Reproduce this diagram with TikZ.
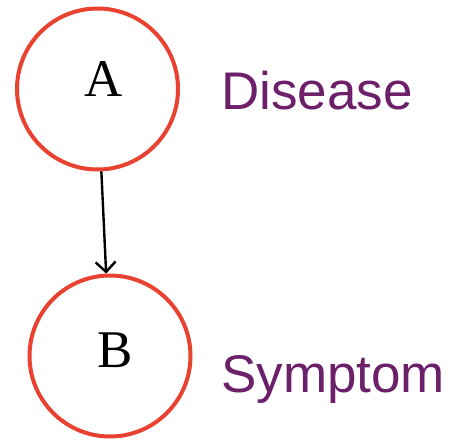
\documentclass[tikz,border=0pt]{standalone}
\usepackage{fontspec}
\usetikzlibrary{arrows.meta}
\setmainfont{Liberation Serif}
\newfontfamily\labelfont{Liberation Sans}
\definecolor{nodered}{RGB}{232,66,48}
\definecolor{labpurple}{RGB}{108,32,106}
\begin{document}
\begin{tikzpicture}[x=1pt,y=-1pt,
  var/.style={circle,draw=nodered,line width=4pt,minimum size=161pt,inner sep=0pt},
  letter/.style={font=\fontsize{53}{53}\selectfont,anchor=base,inner sep=0pt},
  lab/.style={font=\labelfont\fontsize{53}{53}\selectfont,text=labpurple,anchor=base west,inner sep=0pt},
  link/.style={draw=black,line width=2.4pt,-{Straight Barb[length=10pt,width=20pt,line width=2.4pt]}}]
\useasboundingbox (0,0) rectangle (452,441);
\node[var] (A) at (97.5,89) {};
\node[var] (B) at (110,356) {};
\node[letter] (Al) at (104,97) {A};
\node[letter] (Bl) at (115,367) {B};
\node[lab] (d) at (221,110) {Disease};
\node[lab] (s) at (221,392) {Symptom};
\path[link] (A) -- (B);
\end{tikzpicture}
\end{document}
